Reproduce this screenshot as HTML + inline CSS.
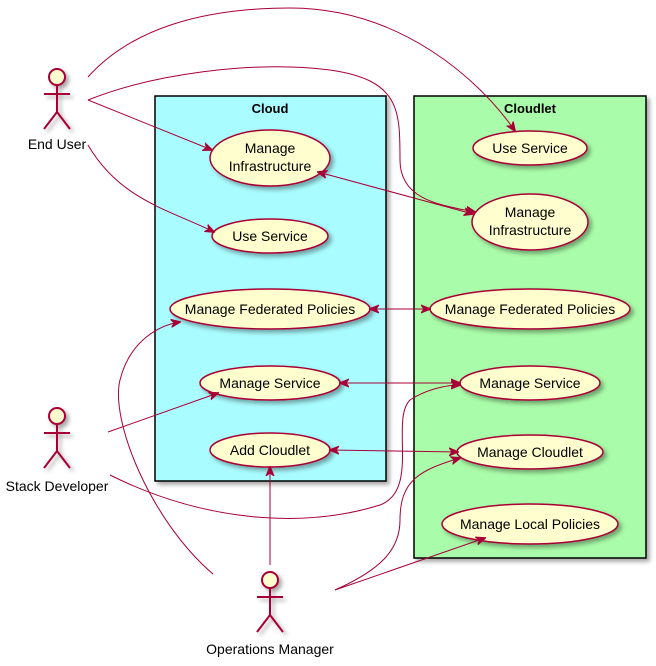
<!DOCTYPE html>
<html><head><meta charset="utf-8"><style>
html,body{margin:0;padding:0;background:#fff;}
svg{display:block;font-family:"Liberation Sans",sans-serif;}
</style></head><body>
<svg width="656" height="666" viewBox="0 0 656 666" xmlns="http://www.w3.org/2000/svg">
<defs>
<marker id="a" viewBox="0 0 10 10" refX="9" refY="5" markerWidth="10" markerHeight="10" orient="auto-start-reverse" markerUnits="userSpaceOnUse">
<path d="M0,1 L10,5 L0,9 L3,5 Z" fill="#A80036" stroke="#A80036"/></marker>
<filter id="s" x="-20%" y="-20%" width="150%" height="150%"><feDropShadow dx="3" dy="3" stdDeviation="2" flood-color="#000" flood-opacity="0.35"/></filter>
</defs>
<rect x="155" y="96" width="231" height="385" fill="#A9FCFF" stroke="#000" stroke-width="1.5" filter="url(#s)"/>
<text x="270" y="113" text-anchor="middle" font-size="13" font-weight="bold">Cloud</text>
<rect x="414" y="96" width="232" height="462" fill="#A9FCA9" stroke="#000" stroke-width="1.5" filter="url(#s)"/>
<text x="530" y="113" text-anchor="middle" font-size="13" font-weight="bold">Cloudlet</text>
<g fill="#FEFECE" stroke="#A80036" stroke-width="1.5" filter="url(#s)">
<ellipse cx="270" cy="158" rx="60" ry="28"/>
<ellipse cx="270" cy="236" rx="58" ry="17"/>
<ellipse cx="270" cy="309" rx="100" ry="20"/>
<ellipse cx="270" cy="383" rx="70" ry="17"/>
<ellipse cx="270" cy="450" rx="60" ry="17"/>
<ellipse cx="530" cy="148" rx="57" ry="17"/>
<ellipse cx="530" cy="222" rx="58" ry="28"/>
<ellipse cx="530" cy="309" rx="100" ry="20"/>
<ellipse cx="530" cy="383" rx="70" ry="17"/>
<ellipse cx="530" cy="452" rx="73" ry="17"/>
<ellipse cx="530" cy="524" rx="88" ry="20"/>
</g>
<g font-size="14" text-anchor="middle" fill="#000">
<text x="270" y="153">Manage</text><text x="270" y="171">Infrastructure</text>
<text x="270" y="241">Use Service</text>
<text x="270" y="314">Manage Federated Policies</text>
<text x="270" y="388">Manage Service</text>
<text x="270" y="455">Add Cloudlet</text>
<text x="530" y="153">Use Service</text>
<text x="530" y="217">Manage</text><text x="530" y="235">Infrastructure</text>
<text x="530" y="314">Manage Federated Policies</text>
<text x="530" y="388">Manage Service</text>
<text x="530" y="457">Manage Cloudlet</text>
<text x="530" y="529">Manage Local Policies</text>
</g>
<g fill="#FEFECE" stroke="#A80036" stroke-width="2" filter="url(#s)">
<g transform="translate(57,69)"><circle cx="0" cy="8" r="8"/><path d="M0,16 V43 M-13,25 H13 M0,43 L-13,60 M0,43 L13,60" fill="none"/></g>
<g transform="translate(57,408)"><circle cx="0" cy="8" r="8"/><path d="M0,16 V43 M-13,25 H13 M0,43 L-13,60 M0,43 L13,60" fill="none"/></g>
<g transform="translate(270,572)"><circle cx="0" cy="8" r="8"/><path d="M0,16 V43 M-13,25 H13 M0,43 L-13,60 M0,43 L13,60" fill="none"/></g>
</g>
<g font-size="14" text-anchor="middle">
<text x="57" y="149">End User</text>
<text x="57" y="491">Stack Developer</text>
<text x="270" y="654">Operations Manager</text>
</g>
<g fill="none" stroke="#A80036" stroke-width="1">
<path d="M88,77 C130,30 200,8 290,8 C400,8 480,80 515,131" marker-end="url(#a)"/>
<path d="M88,100 C150,75 250,60 330,70 C400,80 400,110 400,160 C400,200 440,205 475,212" marker-end="url(#a)"/>
<path d="M88,100 L212,150" marker-end="url(#a)"/>
<path d="M88,145 C120,200 170,210 214,232" marker-end="url(#a)"/>
<path d="M318,172 L473,214" marker-start="url(#a)" marker-end="url(#a)"/>
<path d="M370,309 L430,309" marker-start="url(#a)" marker-end="url(#a)"/>
<path d="M340,383 L460,383" marker-start="url(#a)" marker-end="url(#a)"/>
<path d="M330,450 L458,452" marker-start="url(#a)" marker-end="url(#a)"/>
<path d="M108,432 L218,393" marker-end="url(#a)"/>
<path d="M110,475 C200,520 300,530 380,505 C420,490 390,420 410,400 C425,390 445,385 460,385" marker-end="url(#a)"/>
<path d="M213,574 C150,520 110,420 120,380 C130,340 160,325 180,322" marker-end="url(#a)"/>
<path d="M270,565 L270,467" marker-end="url(#a)"/>
<path d="M335,590 C380,570 400,550 400,520 C400,480 420,470 460,458" marker-end="url(#a)"/>
<path d="M335,590 L485,538" marker-end="url(#a)"/>
</g>
</svg>
</body></html>
